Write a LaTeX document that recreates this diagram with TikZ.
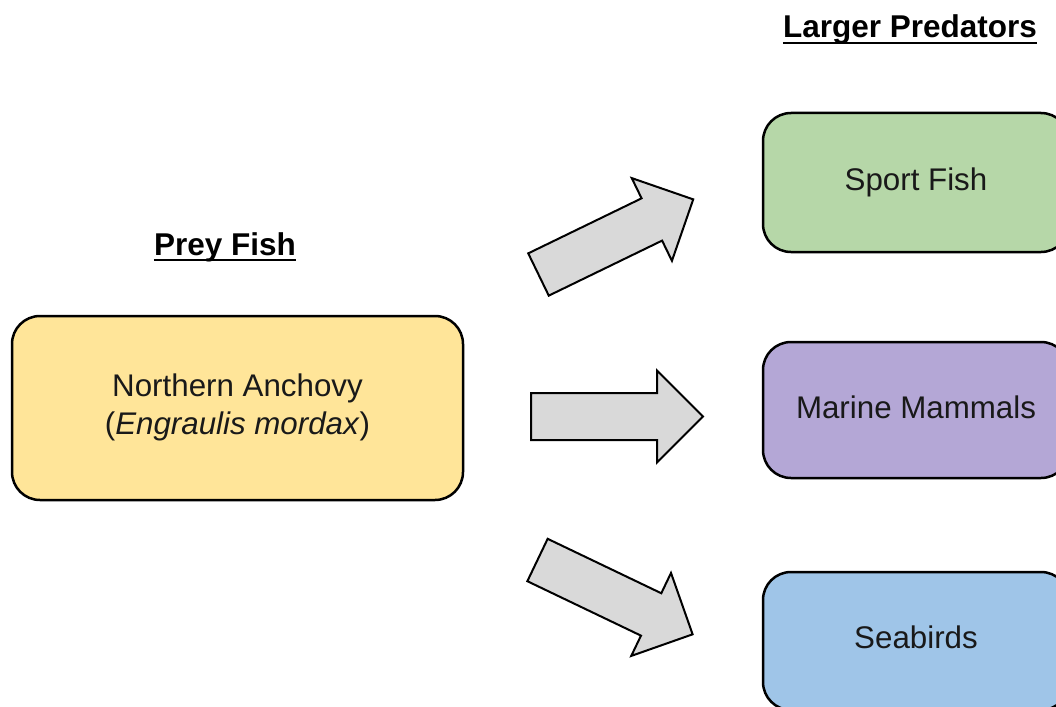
\documentclass[tikz,border=0pt]{standalone}
\usepackage{fontspec}
\setmainfont{Liberation Sans}
\definecolor{anchovy}{HTML}{FFE599}
\definecolor{sportc}{HTML}{B6D7A8}
\definecolor{marinec}{HTML}{B4A7D6}
\definecolor{seabc}{HTML}{9FC5E8}
\definecolor{arrowc}{HTML}{D9D9D9}
\begin{document}
\begin{tikzpicture}[x=1pt,y=1pt,
  box/.style={draw=black, line width=2.5pt, rounded corners=28pt, rectangle,
    inner sep=0pt, align=center, font=\fontsize{31.3}{38}\selectfont, text=black!90},
  title/.style={font=\bfseries\fontsize{31.5}{36}\selectfont, inner sep=0pt, anchor=base},
  uline/.style={line width=2.6pt},
  blockarrow/.style={draw=black, line width=2pt, fill=arrowc, line join=miter}]
\useasboundingbox (0,0) rectangle (1056,-706);
\clip (0,0) rectangle (1056,-706);
% titles
\node[title] (preyt) at (225,-255) {Prey Fish};
\node[title] (predt) at (910,-38) {Larger Predators};
\draw[uline] ([yshift=-5pt]preyt.base west) -- ([yshift=-5pt]preyt.base east);
\draw[uline] ([yshift=-5pt]predt.base west) -- ([yshift=-5pt]predt.base east);
% boxes
\node[box, fill=anchovy, minimum width=451pt, minimum height=184pt] (anch) at (237.5,-408)
  {\raisebox{3pt}{\begin{tabular}{@{}c@{}}Northern Anchovy\\[0pt](\textit{Engraulis mordax})\end{tabular}}};
\node[box, fill=sportc, minimum width=306pt, minimum height=139pt] (sport) at (916,-182.5) {\raisebox{2pt}{Sport Fish}};
\node[box, fill=marinec, minimum width=306pt, minimum height=136pt] (marine) at (916,-410) {\raisebox{5pt}{Marine Mammals}};
\node[box, fill=seabc, minimum width=306pt, minimum height=138pt] (seab) at (916,-641) {\raisebox{7pt}{Seabirds}};
% block arrows
\coordinate (a1) at (538.5,-274.5);
\coordinate (a2) at (531,-416.5);
\coordinate (a3) at (537.5,-560);
\foreach \c/\r in {a1/25.9, a2/0, a3/-25.6}{
  \begin{scope}[shift={(\c)}, rotate=\r]
    \draw[blockarrow] (0,23.5) -- (126,23.5) -- (126,46) -- (172,0) -- (126,-46) -- (126,-23.5) -- (0,-23.5) -- cycle;
  \end{scope}
}
\end{tikzpicture}
\end{document}
